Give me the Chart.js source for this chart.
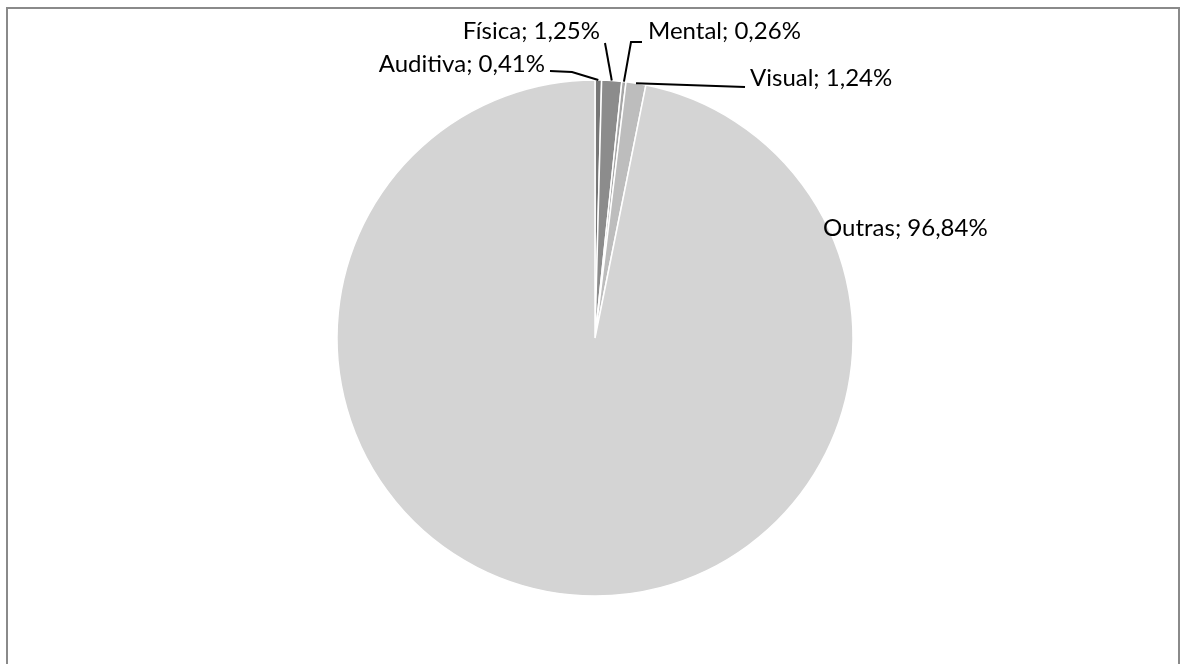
<!DOCTYPE html>
<html>
<head>
<meta charset="utf-8">
<script src="https://cdn.jsdelivr.net/npm/chart.js@4/dist/chart.umd.min.js"></script>
<style>
    html, body { margin: 0; padding: 0; background: #fff; }
    #wrap { position: relative; width: 1183px; height: 664px; }
    #frame { position: absolute; left: 6px; top: 7px; width: 1174px; height: 670px;
             border: 2px solid #8a8a8a; box-sizing: border-box; }
    canvas { position: absolute; left: 0; top: 0; }
</style>
</head>
<body>
<div id="wrap">
    <div id="frame"></div>
    <canvas id="pie" width="1183" height="664"></canvas>
</div>
<script>
(function() {
    'use strict';

    var categories = ['Auditiva', 'Física', 'Mental', 'Visual', 'Outras'];
    var shares = [0.41, 1.25, 0.26, 1.24, 96.84];
    var sliceColors = ['#777777', '#8c8c8c', '#a6a6a6', '#bdbdbd', '#d4d4d4'];

    // where each label sits and how its leader line bends (canvas px)
    var labelPlaces = [
        { x: 545, y: 64, align: 'right', bends: [[550, 71], [572, 72]] },
        { x: 600, y: 31, align: 'right', bends: [[605, 43]] },
        { x: 648, y: 31, align: 'left', bends: [[642, 42], [631, 42]] },
        { x: 750, y: 78, align: 'left', bends: [[745, 87]] },
        { x: 823, y: 228, align: 'left', bends: [] }
    ];

    function fmt(v) {
        return v.toFixed(2).replace('.', ',') + '%';
    }

    var labelPlugin = {
        id: 'leaderLabels',
        afterDatasetsDraw: function(chart) {
            var ctx = chart.ctx;
            var meta = chart.getDatasetMeta(0);
            ctx.save();
            ctx.font = '24px Lato';
            ctx.fillStyle = '#000';
            ctx.strokeStyle = '#000';
            ctx.lineWidth = 2;
            ctx.textBaseline = 'middle';
            meta.data.forEach(function(arc, i) {
                var p = labelPlaces[i];
                if (p.bends.length) {
                    var mid = (arc.startAngle + arc.endAngle) / 2;
                    var ex = arc.x + Math.cos(mid) * arc.outerRadius;
                    var ey = arc.y + Math.sin(mid) * arc.outerRadius;
                    ctx.beginPath();
                    ctx.moveTo(p.bends[0][0], p.bends[0][1]);
                    for (var k = 1; k < p.bends.length; k++)
                        ctx.lineTo(p.bends[k][0], p.bends[k][1]);
                    ctx.lineTo(ex, ey);
                    ctx.stroke();
                }
                ctx.textAlign = p.align;
                ctx.fillText(categories[i] + '; ' + fmt(shares[i]), p.x, p.y);
            });
            ctx.restore();
        }
    };

    new Chart(document.getElementById('pie').getContext('2d'), {
        type: 'pie',
        data: {
            labels: categories,
            datasets: [{
                data: shares,
                backgroundColor: sliceColors,
                borderColor: '#ffffff',
                borderWidth: 1.5
            }]
        },
        options: {
            responsive: false,
            animation: false,
            radius: 258,
            layout: { padding: { left: 7, right: 0, top: 12, bottom: 0 } },
            plugins: {
                legend: { display: false },
                tooltip: { enabled: false }
            }
        },
        plugins: [labelPlugin]
    });
})();
</script>
</body>
</html>
